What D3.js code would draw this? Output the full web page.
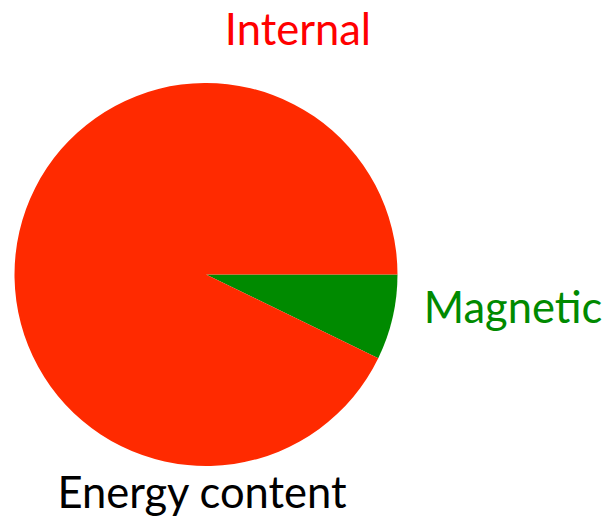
<!DOCTYPE html>
<html>
<head>
<meta charset="utf-8">
<script src="https://cdn.jsdelivr.net/npm/d3@7"></script>
<style>
  html, body { margin: 0; padding: 0; background: #fff; }
  svg { display: block; }
</style>
</head>
<body>
<div id="chart"></div>
<script>
// share of energy content, percent
const categories = ['Magnetic', 'Internal']
const values = [7.2, 92.8]
const sliceColors = ['#008a00', '#ff2a00']
const labelColors = ['#008a00', '#ff0000']
const title = 'Energy content'

const width = 610
const height = 519
const cx = 206
const cy = 274.5
const radius = 191.5

const svg = d3.select('#chart')
  .append('svg')
  .attr('width', width)
  .attr('height', height)

const data = categories.map((c, i) => ({ name: c, value: values[i], i }))

// slices start at 3 o'clock and run clockwise
const pie = d3.pie()
  .sort(null)
  .value(d => d.value)
  .startAngle(Math.PI / 2)
  .endAngle(Math.PI / 2 + 2 * Math.PI)

const arc = d3.arc().innerRadius(0).outerRadius(radius)

const g = svg.append('g').attr('transform', `translate(${cx},${cy})`)

g.selectAll('path')
  .data(pie(data))
  .join('path')
  .attr('d', arc)
  .attr('fill', d => sliceColors[d.data.i])

const font = 'Lato, "Open Sans", sans-serif'

// label spots picked to sit like the original
const labelPos = {
  Magnetic: [513, 323],
  Internal: [298, 45]
}

svg.selectAll('text.label')
  .data(data)
  .join('text')
  .attr('class', 'label')
  .attr('x', d => labelPos[d.name][0])
  .attr('y', d => labelPos[d.name][1])
  .attr('text-anchor', 'middle')
  .attr('font-family', font)
  .attr('font-size', '43.5px')
  .attr('fill', d => labelColors[d.i])
  .text(d => d.name)

svg.append('text')
  .attr('x', 202)
  .attr('y', 508)
  .attr('text-anchor', 'middle')
  .attr('font-family', font)
  .attr('font-size', '43.5px')
  .attr('fill', '#000')
  .text(title)
</script>
</body>
</html>
